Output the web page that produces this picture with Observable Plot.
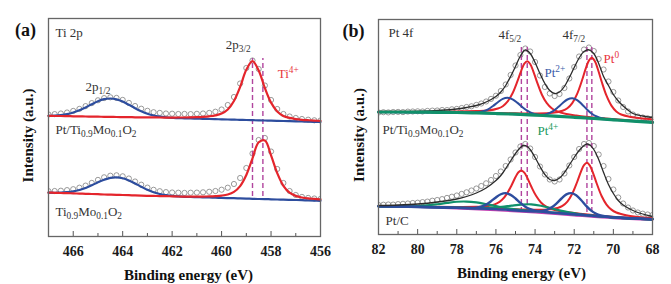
<!DOCTYPE html>
<html><head><meta charset="utf-8">
<script src="https://cdn.jsdelivr.net/npm/d3@7"></script>
<script src="https://cdn.jsdelivr.net/npm/@observablehq/plot@0.6"></script>
<style>
html,body{margin:0;padding:0;background:#fff;}
#wrap{position:relative;width:671px;height:284px;overflow:hidden;background:#fff;}
#wrap svg{position:absolute;top:0;}
#wrap svg g[aria-label^="x-axis"] text{font-weight:bold;font-size:14px;fill:#1a1a1a;}
</style></head><body><div id="wrap"></div>
<script>
// ---------- Panel (a): Ti 2p ----------
const energyA = [467,466.75,466.5,466.25,466,465.75,465.5,465.25,465,464.75,464.5,464.25,464,463.75,463.5,463.25,463,462.75,462.5,462.25,462,461.75,461.5,461.25,461,460.75,460.5,460.25,460,459.75,459.5,459.25,459,458.75,458.5,458.25,458,457.75,457.5,457.25,457,456.75,456.5,456.25,456];
// upper spectrum: Pt/Ti0.9Mo0.1O2
const ptTiData = [122.0,122.4,123.0,124.0,125.6,127.6,130.4,133.4,136.2,138.4,139.2,138.6,136.6,133.6,130.5,127.8,125.7,124.3,123.6,123.0,122.8,122.5,122.6,122.4,122.7,123.0,123.6,124.8,127.0,131.5,139.5,153.0,168.5,176.0,167.5,151.0,136.5,127.5,122.5,120.0,118.5,117.5,116.8,116.2,116.0];
const ptTiFit2p32 = [120.6,120.5,120.5,120.4,120.2,120.1,120.0,119.9,119.8,119.7,119.6,119.5,119.4,119.4,119.2,119.2,119.1,119.1,119.0,118.9,118.9,119.0,119.0,119.2,119.4,119.7,120.2,121.1,122.9,127.0,135.5,149.6,166.7,175.4,166.0,148.5,133.9,125.1,120.6,118.6,117.4,116.7,116.3,115.9,115.6];
const ptTiFit2p12 = [120.7,121.0,121.5,122.4,124.0,126.3,129.1,132.3,135.3,137.3,138.0,137.1,134.9,131.7,128.3,125.3,122.8,121.0,119.9,119.2,118.7,118.3,118.2,118.0,117.8,117.7,117.5,117.3,117.2,117.0,116.8,116.7,116.5,116.3,116.2,116.0,115.8,115.7,115.5,115.3,115.2,115.0,114.8,114.7,114.5];
// lower spectrum: Ti0.9Mo0.1O2
const tiMoData = [45.3,45.5,45.8,46.4,47.3,48.8,50.9,53.6,56.6,59.2,60.8,61.2,60.2,58.0,55.0,51.8,48.9,46.7,45.3,44.4,44.0,43.8,43.6,43.8,43.9,44.2,44.7,45.5,46.8,48.8,52.5,58.5,68.5,83.0,96.5,98.5,85.0,67.5,53.5,45.5,41.5,39.6,38.6,38.0,37.6];
const tiMoFit2p32 = [43.9,43.7,43.5,43.4,43.1,42.9,42.7,42.5,42.3,42.0,41.9,41.7,41.5,41.3,41.1,40.9,40.7,40.6,40.4,40.3,40.2,40.0,39.9,39.8,39.8,39.9,40.1,40.4,40.9,42.0,44.6,50.4,61.5,78.1,94.2,96.0,81.1,63.4,50.7,43.8,40.6,39.0,38.1,37.6,37.1];
const tiMoFit2p12 = [43.8,43.7,43.8,44.3,45.1,46.5,48.5,51.2,54.2,56.8,58.7,59.2,58.3,56.1,53.1,49.8,46.7,44.3,42.5,41.4,40.6,40.1,39.7,39.5,39.3,39.2,39.0,38.8,38.6,38.4,38.3,38.1,37.9,37.7,37.5,37.4,37.2,37.0,36.8,36.6,36.5,36.3,36.1,35.9,35.7];
const majorTicksA = [466,464,462,460,458,456];
const minorTicksA = [467,465,463,461,459,457];
const dashPosA = [458.75, 458.33];
const dashSpanA = [40, 178];

// ---------- Panel (b): Pt 4f ----------
const energyB = [82,81.75,81.5,81.25,81,80.75,80.5,80.25,80,79.75,79.5,79.25,79,78.75,78.5,78.25,78,77.75,77.5,77.25,77,76.75,76.5,76.25,76,75.75,75.5,75.25,75,74.75,74.5,74.25,74,73.75,73.5,73.25,73,72.75,72.5,72.25,72,71.75,71.5,71.25,71,70.75,70.5,70.25,70,69.75,69.5,69.25,69,68.75,68.5,68.25,68];
// upper spectrum: Pt/Ti0.9Mo0.1O2
const ptTiPtData = [122.0,122.3,122.1,122.5,122.6,122.4,122.9,123.0,123.2,123.0,123.6,123.9,124.0,124.5,124.4,125.2,125.6,126.5,127.5,128.2,129.6,131.0,133.0,135.6,138.8,143.5,150.0,159.5,169.0,179.5,186.0,183.0,172.5,159.0,147.5,141.0,138.5,140.5,146.5,156.0,167.5,178.0,185.0,187.0,183.5,175.5,165.0,153.0,142.5,134.0,127.5,123.0,120.0,118.0,117.0,116.2,115.8];
const ptTiEnvelope = [[82,122],[80,123],[78,125.5],[77.5,127],[77,129],[76.5,132.5],[76,138],[75.75,142.5],[75.5,149],[75.25,158],[75,168],[74.75,178.5],[74.5,184.5],[74.25,181],[74,172],[73.75,161],[73.5,151],[73.25,144],[73,141],[72.75,142.5],[72.5,148],[72.25,157],[72,167],[71.75,176.5],[71.5,183],[71.25,184.7],[71,181],[70.75,171],[70.5,158],[70.25,149],[70,140],[69.75,133.5],[69.5,128.5],[69,121],[68.5,118.5],[68,117]];
const ptTiPt0a = [[82,122.7],[80,122.8],[78,122.9],[77,123.4],[76.4,124.0],[75.9,126.0],[75.65,128.3],[75.4,133.1],[75.15,141.2],[74.9,153.3],[74.7,164.2],[74.55,170.8],[74.4,173.3],[74.25,170.5],[74.1,163.7],[73.9,152.4],[73.65,139.8],[73.4,131.3],[73.15,126.2],[72.9,123.4],[72.4,120.5],[71.9,119.0],[71.4,117.8],[70.4,116.0],[69.4,114.4],[68,112.5]];
const ptTiPt0b = [[82,122.6],[80,122.6],[78,122.3],[76,121.6],[75,121.2],[74,121.0],[73.1,121.7],[72.6,123.7],[72.35,126.2],[72.1,131.4],[71.85,140.6],[71.6,154.2],[71.4,166.6],[71.25,173.9],[71.1,176.7],[70.95,173.5],[70.8,165.8],[70.6,153.0],[70.35,138.8],[70.1,128.9],[69.85,123.1],[69.6,120.0],[69.1,117.5],[68.6,116.2],[68,115.0]];
const ptTiPt2a = [[82,122.5],[79,122.2],[77.4,121.9],[76.9,122.2],[76.65,123.2],[76.4,125.2],[76.15,128.5],[75.9,132.3],[75.65,135.6],[75.4,136.7],[75.15,135.2],[74.9,131.6],[74.65,127.4],[74.4,123.8],[74.15,121.3],[73.9,120.0],[73.4,118.9],[72,117.2],[70,114.7],[68,112.2]];
const ptTiPt2b = [[82,122.5],[78,122.0],[75,120.3],[74.1,119.6],[73.6,119.8],[73.35,120.9],[73.1,123.2],[72.85,126.9],[72.6,131.3],[72.35,135.0],[72.1,136.3],[71.85,134.4],[71.6,130.1],[71.35,125.1],[71.1,120.8],[70.85,118.0],[70.6,116.3],[70.1,114.9],[69,113.4],[68,112.2]];
const ptTiPt4 = [[82,122.5],[81,122.5],[80,122.4],[79,122.2],[78,122.0],[77,121.6],[76,121.0],[75,120.3],[74,119.4],[73,118.4],[72,117.2],[71,116.0],[70,114.7],[69,113.4],[68,112.2]];
// lower spectrum: Pt/C
const ptcData = [29.5,29.8,30.0,29.9,30.4,30.7,31.0,31.5,31.8,32.4,32.9,33.8,34.5,35.4,36.6,37.8,39.0,40.6,42.2,44.0,46.0,48.5,51.2,54.5,58.5,63.0,68.5,75.0,82.0,88.0,90.5,86.0,77.5,68.0,60.0,55.0,53.0,55.0,61.0,69.0,77.5,85.5,90.5,91.5,88.5,80.0,68.5,55.5,45.0,37.0,31.0,27.0,24.0,22.0,20.8,20.0,19.5];
const ptcEnvelope = [[82,29],[81,29.5],[80,30.5],[79,32.5],[78,35.5],[77.5,38],[77,41.5],[76.5,46.5],[76,54],[75.75,59],[75.5,66],[75.25,73.5],[75,81],[74.75,87],[74.6,89],[74.4,88],[74.25,85],[74,77],[73.75,68],[73.5,60],[73.25,55],[73,54],[72.75,56.5],[72.5,62],[72.25,69.5],[72,77],[71.75,84],[71.5,89],[71.35,90.5],[71.2,89.5],[71,85],[70.75,75],[70.5,62],[70.25,50],[70,41],[69.75,34],[69.5,29.5],[69,24],[68.5,20.5],[68,18]];
const ptcPt0a = [[82,28.4],[80,28.0],[78,27.6],[77,27.7],[76.7,28.0],[76.2,29.3],[75.95,31.05],[75.7,34.4],[75.45,40.4],[75.2,49.3],[75,57.4],[74.85,62.2],[74.7,64.05],[74.55,61.9],[74.4,56.7],[74.2,48.2],[73.95,38.7],[73.7,32.05],[73.45,28.1],[73.2,25.8],[72.7,23.35],[72.2,21.9],[71.7,20.75],[70.7,18.8],[69.7,17.3],[68,15.4]];
const ptcPt0b = [[82,28.3],[79,27.45],[76,26.0],[74.35,24.9],[73.35,25.0],[72.85,26.5],[72.6,28.6],[72.35,32.9],[72.1,40.75],[71.85,52.5],[71.65,63.05],[71.5,69.35],[71.35,71.7],[71.2,68.9],[71.05,62.2],[70.85,51.0],[70.6,38.5],[70.35,29.95],[70.1,24.85],[69.85,22.0],[69.35,19.3],[68.85,17.8],[68,16.25]];
const ptcPt2a = [[82,28.2],[79,27.25],[77.5,26.5],[77,26.8],[76.75,27.85],[76.5,29.85],[76.25,33.2],[76,37.1],[75.75,40.25],[75.5,41.35],[75.25,39.6],[75,36.0],[74.75,31.6],[74.5,27.8],[74.25,25.4],[74,23.9],[73.5,22.5],[72,20.2],[70,17.2],[68,15.2]];
const ptcPt2b = [[82,28.2],[78,26.8],[76,25.4],[74.15,23.1],[73.65,23.6],[73.4,24.7],[73.15,27.15],[72.9,31.15],[72.65,36.0],[72.4,40.1],[72.15,41.4],[71.9,39.35],[71.65,34.5],[71.4,28.9],[71.15,24.15],[70.9,20.95],[70.65,19.1],[70.15,17.5],[69,16.2],[68,15.2]];
const ptcPt4a = [[82,28.2],[81,28.05],[80.5,28.1],[80,28.45],[79.5,29.1],[79,30.25],[78.5,31.6],[78,32.75],[77.5,32.95],[77,32.05],[76.5,30.35],[76,28.4],[75.5,26.45],[75,25.05],[74.5,24.05],[74,23.3],[72,20.2],[70,17.2],[68,15.2]];
const ptcPt4b = [[82,28.2],[78,26.8],[77.2,26.4],[76.7,26.4],[76.2,26.85],[75.7,27.7],[75.2,28.9],[74.7,29.95],[74.2,30.2],[73.7,28.75],[73.2,26.4],[72.7,23.85],[72.2,21.8],[71.7,20.25],[71.2,19.15],[70,17.2],[68,15.2]];
const ptcBackground = [[82,27.9],[80,27.2],[78,25.9],[76,24.1],[74,21.8],[72,18.9],[70,16.1],[68,14.4]];
const majorTicksB = [82,80,78,76,74,72,70,68];
const minorTicksB = [81,79,77,75,73,71,69];
const dashPosB = [74.7, 74.4, 71.35, 71.1];
const dashSpanB = [22, 189];

// ---------- annotations (text, binding energy, intensity) ----------
const notesA = [
  {t: "Ti 2p", x: 466.72, y: 204},
  {t: "2p_{3/2}", x: 459.83, y: 192},
  {t: "2p_{1/2}", x: 465.5, y: 150},
  {t: "Pt/Ti_{0.9}Mo_{0.1}O_{2}", x: 466.72, y: 107},
  {t: "Ti_{0.9}Mo_{0.1}O_{2}", x: 466.72, y: 25}
];
const notesARed = [{t: "Ti^{4+}", x: 457.73, y: 163}];
const notesB = [
  {t: "Pt 4f", x: 81.49, y: 202},
  {t: "4f_{5/2}", x: 75.87, y: 200},
  {t: "4f_{7/2}", x: 72.6, y: 200},
  {t: "Pt/Ti_{0.9}Mo_{0.1}O_{2}", x: 81.8, y: 105},
  {t: "Pt/C", x: 81.64, y: 14}
];
const notesBRed = [{t: "Pt^{0}", x: 70.5, y: 176}];
const notesBBlue = [{t: "Pt^{2+}", x: 73.52, y: 162}];
const notesBGreen = [{t: "Pt^{4+}", x: 73.88, y: 104}];

// ---------- styling ----------
const FONT = '"Liberation Serif","Times New Roman",Times,serif';
const C = {red: "#e4252c", blue: "#2d4d9e", green: "#10906a", black: "#2b2b2b", dash: "#b1449e",
           mag: "#c23fb2", dot: "#808080", frame: "#666", text: "#333",
           redText: "#e8343c", blueText: "#3a5aa8", greenText: "#18985c"};
const CURVE = "catmull-rom";

const gridLine = (vals, xs, stroke, w) => Plot.line(vals, {x: (d, i) => xs[i], y: d => d, stroke, strokeWidth: w, curve: CURVE});
const pairLine = (pairs, stroke, w) => Plot.line(pairs, {x: d => d[0], y: d => d[1], stroke, strokeWidth: w, curve: CURVE});
const dots = (vals, xs) => Plot.dot(vals, {x: (d, i) => xs[i], y: d => d, r: 2.6, stroke: C.dot, strokeWidth: 0.8, fill: "none", clip: true});
const notes = (arr, fill) => Plot.text(arr, {x: "x", y: "y", text: "t", fill, textAnchor: "start", fontSize: 13, fontFamily: FONT});
const tickRules = (major, minor) => [
  Plot.ruleX(major, {x: d => d, y1: () => 0, y2: () => 5, stroke: "#555", strokeWidth: 1}),
  Plot.ruleX(minor, {x: d => d, y1: () => 0, y2: () => 3, stroke: "#555", strokeWidth: 1})
];
const axisTitles = (panel, dxPanel, dxX, dxY) => [
  Plot.text([panel], {text: d => d, frameAnchor: "top-left", dx: dxPanel, dy: 12, fontSize: 18, fontWeight: "bold", fill: "#111", textAnchor: "middle", lineAnchor: "middle", fontFamily: FONT}),
  Plot.text(["Binding energy (eV)"], {text: d => d, frameAnchor: "bottom", dx: dxX, dy: 39, fontSize: 15, fontWeight: "bold", fill: "#111", textAnchor: "middle", lineAnchor: "middle", fontFamily: FONT}),
  Plot.text(["Intensity (a.u.)"], {text: d => d, frameAnchor: "left", rotate: -90, dx: dxY, dy: 8, fontSize: 15, fontWeight: "bold", fill: "#111", textAnchor: "middle", lineAnchor: "middle", fontFamily: FONT})
];

function richify(svg) {
  svg.querySelectorAll("text").forEach(t => {
    const s = t.textContent;
    if (!/[_^]\{/.test(s)) return;
    while (t.firstChild) t.removeChild(t.firstChild);
    const re = /([_^])\{([^}]*)\}|([^_^]+)/g;
    let m;
    while ((m = re.exec(s))) {
      const ts = document.createElementNS("http://www.w3.org/2000/svg", "tspan");
      if (m[1]) {
        ts.textContent = m[2];
        ts.setAttribute("font-size", "72%");
        ts.setAttribute("baseline-shift", m[1] === "_" ? "-3px" : "5px");
      } else ts.textContent = m[3];
      t.appendChild(ts);
    }
  });
}

const svgA = Plot.plot({
  width: 335, height: 284, marginLeft: 48, marginRight: 15, marginTop: 18, marginBottom: 48,
  style: {fontFamily: FONT, background: "transparent", color: "#1a1a1a", fontSize: "14px"},
  x: {domain: [467, 456], ticks: majorTicksA, tickSize: 0, tickPadding: 10, tickFormat: d => String(d), label: null},
  y: {domain: [0, 218], axis: null},
  marks: [
    ...tickRules(majorTicksA, minorTicksA),
    dots(ptTiData, energyA),
    dots(tiMoData, energyA),
    Plot.ruleX(dashPosA, {x: d => d, y1: () => dashSpanA[0], y2: () => dashSpanA[1], stroke: C.dash, strokeWidth: 1.4, strokeDasharray: "5,3"}),
    gridLine(ptTiFit2p12, energyA, C.blue, 2.2),
    gridLine(ptTiFit2p32, energyA, C.red, 2.2),
    gridLine(tiMoFit2p12, energyA, C.blue, 2.2),
    gridLine(tiMoFit2p32, energyA, C.red, 2.2),
    notes(notesA, C.text),
    notes(notesARed, C.redText),
    ...axisTitles("(a)", -23, 4, -20),
    Plot.frame({stroke: C.frame, strokeWidth: 1.3})
  ]
});

const svgB = Plot.plot({
  width: 336, height: 284, marginLeft: 43, marginRight: 19, marginTop: 19, marginBottom: 50,
  style: {fontFamily: FONT, background: "transparent", color: "#1a1a1a", fontSize: "14px"},
  x: {domain: [82, 68], ticks: majorTicksB, tickSize: 0, tickPadding: 10, tickFormat: d => String(d), label: null},
  y: {domain: [0, 215], axis: null},
  marks: [
    ...tickRules(majorTicksB, minorTicksB),
    dots(ptTiPtData, energyB),
    dots(ptcData, energyB),
    Plot.ruleX(dashPosB, {x: d => d, y1: () => dashSpanB[0], y2: () => dashSpanB[1], stroke: C.dash, strokeWidth: 1.4, strokeDasharray: "5,3"}),
    // lower: Pt/C
    pairLine(ptcBackground, C.mag, 1.6),
    pairLine(ptcPt0a, C.red, 2),
    pairLine(ptcPt0b, C.red, 2),
    pairLine(ptcPt4a, C.green, 2.2),
    pairLine(ptcPt4b, C.green, 2.2),
    pairLine(ptcPt2a, C.blue, 2.4),
    pairLine(ptcPt2b, C.blue, 2.4),
    pairLine(ptcEnvelope, C.black, 1.3),
    // upper: Pt/Ti0.9Mo0.1O2
    pairLine(ptTiPt0a, C.red, 2),
    pairLine(ptTiPt0b, C.red, 2),
    pairLine(ptTiPt2a, C.blue, 2),
    pairLine(ptTiPt2b, C.blue, 2),
    pairLine(ptTiEnvelope, C.black, 1.3),
    pairLine(ptTiPt4, C.green, 3.2),
    notes(notesB, C.text),
    notes(notesBRed, C.redText),
    notes(notesBBlue, C.blueText),
    notes(notesBGreen, C.greenText),
    ...axisTitles("(b)", -25, 6, -19),
    Plot.frame({stroke: C.frame, strokeWidth: 1.3})
  ]
});

richify(svgA);
richify(svgB);
svgA.style.left = "0px";
svgB.style.left = "335px";
const wrap = document.getElementById("wrap");
wrap.appendChild(svgA);
wrap.appendChild(svgB);
</script>
</body></html>
